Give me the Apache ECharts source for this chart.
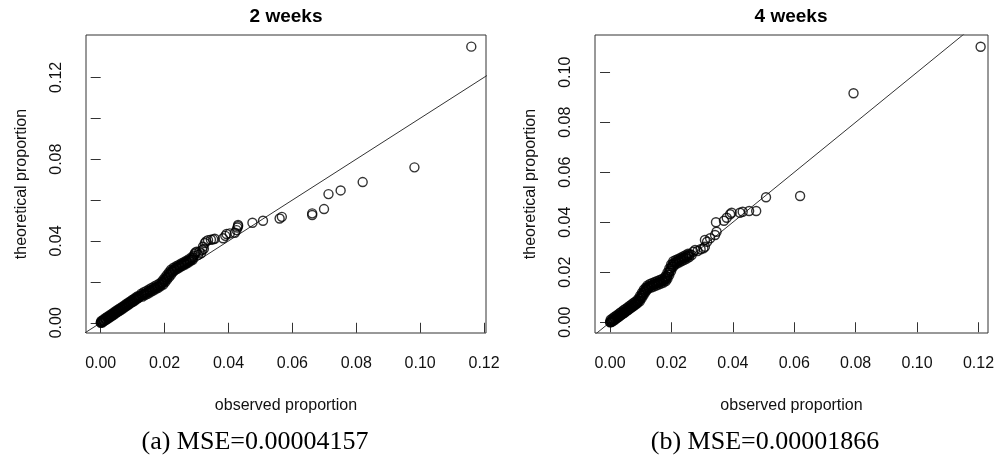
<!DOCTYPE html>
<html>
<head>
<meta charset="utf-8">
<title>QQ plots 2 weeks / 4 weeks</title>
<script src="https://cdn.jsdelivr.net/npm/echarts@6.0.0/dist/echarts.min.js"></script>
<style>
  html, body { margin: 0; padding: 0; background: #fff; }
  #main { width: 998px; height: 459px; }
</style>
</head>
<body>
<div id="main"></div>
<script>
// 2 weeks: observed vs theoretical proportion
var weeks2Observed = [
  0, 0.0001, 0.0003, 0.0005, 0.0007, 0.0010, 0.0013, 0.0016, 0.0019, 0.0022, 0.0025, 0.0028, 0.0031, 0.0034,
  0.0037, 0.0040, 0.0043, 0.0046, 0.0049, 0.0052, 0.0055, 0.0058, 0.0061, 0.0064, 0.0067, 0.0070, 0.0073,
  0.0076, 0.0079, 0.0082, 0.0085, 0.0088, 0.0091, 0.0094, 0.0097, 0.0100, 0.0103, 0.0106, 0.0109, 0.0112,
  0.0115, 0.0118, 0.0121,
  0.0125, 0.0129, 0.0133, 0.0137, 0.0141, 0.0145, 0.0149, 0.0153, 0.0157, 0.0161, 0.0165, 0.0169, 0.0173,
  0.0177, 0.0181, 0.0185, 0.0189,
  0.0192, 0.0195, 0.0198, 0.0201, 0.0204, 0.0207, 0.0210, 0.0213, 0.0216, 0.0219, 0.0222, 0.0226,
  0.0230, 0.0234, 0.0238, 0.0242, 0.0246, 0.0250, 0.0254, 0.0258, 0.0262, 0.0266, 0.0270, 0.0274, 0.0278,
  0.0282, 0.0286, 0.0290,
  0.0292, 0.0294, 0.0296, 0.0300, 0.0305, 0.0309, 0.0314, 0.0318, 0.0320, 0.0323, 0.0326, 0.0330, 0.0336,
  0.0345, 0.0352, 0.0357, 0.0383, 0.0390, 0.0394, 0.0404, 0.0420, 0.0425, 0.0428, 0.0430, 0.0430,
  0.0475, 0.0508, 0.0560, 0.0567, 0.0662, 0.0662, 0.0699, 0.0713, 0.0751, 0.0820, 0.0982, 0.1160,
  // upper edge of the dense band
  0.0002, 0.0008, 0.0014, 0.0020, 0.0026, 0.0032, 0.0038, 0.0044, 0.0050, 0.0056, 0.0062, 0.0068, 0.0074,
  0.0080, 0.0086, 0.0092, 0.0098, 0.0104, 0.0110, 0.0116,
  0.0127, 0.0135, 0.0143, 0.0151, 0.0159, 0.0167, 0.0175, 0.0183,
  0.0190, 0.0196, 0.0202, 0.0208, 0.0214, 0.0220,
  0.0228, 0.0236, 0.0244, 0.0252, 0.0260, 0.0268, 0.0276, 0.0284,
  // lower edge of the dense band
  0.0005, 0.0011, 0.0017, 0.0023, 0.0029, 0.0035, 0.0041, 0.0047, 0.0053, 0.0059, 0.0065, 0.0071, 0.0077,
  0.0083, 0.0089, 0.0095, 0.0101, 0.0107, 0.0113, 0.0119,
  0.0131, 0.0139, 0.0147, 0.0155, 0.0163, 0.0171, 0.0179, 0.0187,
  0.0196, 0.0202, 0.0208, 0.0214, 0.0220, 0.0226,
  0.0232, 0.0240, 0.0248, 0.0256, 0.0264, 0.0272, 0.0280, 0.0288
];
var weeks2Theoretical = [
  0, 0.0002, 0.0004, 0.0006, 0.0008, 0.0011, 0.0014, 0.0017, 0.0020, 0.0024, 0.0027, 0.0030, 0.0033, 0.0036,
  0.0040, 0.0043, 0.0046, 0.0049, 0.0052, 0.0056, 0.0059, 0.0062, 0.0065, 0.0068, 0.0071, 0.0075, 0.0078,
  0.0081, 0.0084, 0.0087, 0.0090, 0.0094, 0.0097, 0.0100, 0.0103, 0.0106, 0.0109, 0.0113, 0.0116, 0.0119,
  0.0122, 0.0125, 0.0128,
  0.0131, 0.0135, 0.0138, 0.0141, 0.0145, 0.0148, 0.0152, 0.0155, 0.0159, 0.0162, 0.0166, 0.0169, 0.0172,
  0.0176, 0.0179, 0.0183, 0.0187,
  0.0192, 0.0197, 0.0203, 0.0209, 0.0215, 0.0221, 0.0227, 0.0233, 0.0239, 0.0245, 0.0251, 0.0257,
  0.0262, 0.0266, 0.0270, 0.0274, 0.0277, 0.0280, 0.0284, 0.0287, 0.0290, 0.0294, 0.0297, 0.0301, 0.0305,
  0.0309, 0.0314, 0.0319,
  0.0328, 0.0336, 0.0343, 0.0347, 0.0332, 0.0347, 0.0340, 0.0356, 0.0372, 0.0362, 0.0390, 0.0398, 0.0404,
  0.0406, 0.0408, 0.0411, 0.0413, 0.0425, 0.0434, 0.0437, 0.0440, 0.0453, 0.0465, 0.0472, 0.0478,
  0.0489, 0.0499, 0.0510, 0.0518, 0.0535, 0.0527, 0.0556, 0.0629, 0.0647, 0.0688, 0.0760, 0.1350,
  // upper edge of the dense band
  0.0009, 0.0015, 0.0022, 0.0028, 0.0035, 0.0041, 0.0047, 0.0054, 0.0060, 0.0066, 0.0073, 0.0079, 0.0085,
  0.0092, 0.0098, 0.0104, 0.0111, 0.0117, 0.0124, 0.0130,
  0.0142, 0.0149, 0.0156, 0.0163, 0.0170, 0.0177, 0.0184, 0.0191,
  0.0199, 0.0211, 0.0223, 0.0235, 0.0247, 0.0259,
  0.0269, 0.0276, 0.0283, 0.0290, 0.0296, 0.0303, 0.0311, 0.0320,
  // lower edge of the dense band
  0.0001, 0.0008, 0.0014, 0.0020, 0.0027, 0.0033, 0.0039, 0.0046, 0.0052, 0.0059, 0.0065, 0.0071, 0.0078,
  0.0084, 0.0090, 0.0097, 0.0103, 0.0109, 0.0116, 0.0122,
  0.0128, 0.0135, 0.0142, 0.0149, 0.0156, 0.0163, 0.0170, 0.0178,
  0.0187, 0.0199, 0.0211, 0.0223, 0.0235, 0.0248,
  0.0257, 0.0264, 0.0271, 0.0278, 0.0285, 0.0292, 0.0300, 0.0308
];

// 4 weeks
var weeks4Observed = [
  0, 0.0001, 0.0003, 0.0005, 0.0007, 0.0010, 0.0013, 0.0016, 0.0019, 0.0022, 0.0025, 0.0028, 0.0031, 0.0034,
  0.0037, 0.0040, 0.0043, 0.0046, 0.0049, 0.0052, 0.0055, 0.0058, 0.0061, 0.0064, 0.0067, 0.0070, 0.0073,
  0.0076, 0.0079, 0.0082, 0.0085, 0.0088, 0.0091,
  0.0094, 0.0097, 0.0100, 0.0103, 0.0106, 0.0109, 0.0112, 0.0115, 0.0118, 0.0121, 0.0124,
  0.0128, 0.0132, 0.0136, 0.0140, 0.0144, 0.0148, 0.0152, 0.0156, 0.0160, 0.0164, 0.0168, 0.0172, 0.0176, 0.0180,
  0.0183, 0.0186, 0.0189, 0.0192, 0.0195, 0.0198, 0.0201, 0.0204,
  0.0208, 0.0212, 0.0216, 0.0220, 0.0224, 0.0228, 0.0232, 0.0236, 0.0240, 0.0244, 0.0248, 0.0252, 0.0256, 0.0260,
  0.0266, 0.0271, 0.0277, 0.0285, 0.0295, 0.0304, 0.0309, 0.0309, 0.0316, 0.0326, 0.0342, 0.0347, 0.0345,
  0.0371, 0.0380, 0.0391, 0.0396, 0.0423, 0.0432, 0.0453, 0.0476, 0.0508, 0.0619, 0.0793, 0.1207,
  // upper edge of the dense band
  0.0002, 0.0008, 0.0014, 0.0020, 0.0026, 0.0032, 0.0038, 0.0044, 0.0050, 0.0056, 0.0062, 0.0068, 0.0074,
  0.0080, 0.0086,
  0.0092, 0.0098, 0.0104, 0.0110, 0.0116, 0.0122,
  0.0130, 0.0138, 0.0146, 0.0154, 0.0162, 0.0170, 0.0178,
  0.0181, 0.0187, 0.0193, 0.0199,
  0.0206, 0.0214, 0.0222, 0.0230, 0.0238, 0.0246, 0.0254,
  // lower edge of the dense band
  0.0005, 0.0011, 0.0017, 0.0023, 0.0029, 0.0035, 0.0041, 0.0047, 0.0053, 0.0059, 0.0065, 0.0071, 0.0077,
  0.0083, 0.0089,
  0.0097, 0.0103, 0.0109, 0.0115, 0.0121, 0.0126,
  0.0134, 0.0142, 0.0150, 0.0158, 0.0166, 0.0174, 0.0182,
  0.0187, 0.0193, 0.0199, 0.0205,
  0.0210, 0.0218, 0.0226, 0.0234, 0.0242, 0.0250, 0.0258
];
var weeks4Theoretical = [
  0, 0.0001, 0.0003, 0.0004, 0.0006, 0.0009, 0.0011, 0.0014, 0.0016, 0.0019, 0.0022, 0.0024, 0.0027, 0.0030,
  0.0032, 0.0035, 0.0038, 0.0040, 0.0043, 0.0046, 0.0048, 0.0051, 0.0054, 0.0057, 0.0059, 0.0062, 0.0065,
  0.0068, 0.0070, 0.0073, 0.0076, 0.0079, 0.0082,
  0.0087, 0.0093, 0.0099, 0.0105, 0.0111, 0.0117, 0.0123, 0.0128, 0.0133, 0.0137, 0.0141,
  0.0144, 0.0146, 0.0148, 0.0150, 0.0152, 0.0154, 0.0156, 0.0158, 0.0160, 0.0162, 0.0164, 0.0166, 0.0168, 0.0171,
  0.0176, 0.0183, 0.0191, 0.0199, 0.0207, 0.0215, 0.0223, 0.0231,
  0.0236, 0.0239, 0.0242, 0.0245, 0.0247, 0.0249, 0.0252, 0.0254, 0.0257, 0.0259, 0.0262, 0.0265, 0.0268, 0.0272,
  0.0269, 0.0282, 0.0289, 0.0285, 0.0292, 0.0296, 0.0302, 0.0329, 0.0322, 0.0336, 0.0349, 0.0362, 0.0400,
  0.0406, 0.0418, 0.0432, 0.0438, 0.0438, 0.0442, 0.0445, 0.0445, 0.0500, 0.0505, 0.0916, 0.1102,
  // upper edge of the dense band
  0.0010, 0.0015, 0.0021, 0.0026, 0.0031, 0.0037, 0.0042, 0.0048, 0.0053, 0.0058, 0.0064, 0.0069, 0.0075,
  0.0080, 0.0085,
  0.0094, 0.0106, 0.0118, 0.0130, 0.0138, 0.0147,
  0.0153, 0.0157, 0.0161, 0.0165, 0.0169, 0.0173, 0.0178,
  0.0185, 0.0199, 0.0215, 0.0231,
  0.0244, 0.0249, 0.0253, 0.0258, 0.0263, 0.0268, 0.0274,
  // lower edge of the dense band
  0.0001, 0.0006, 0.0011, 0.0017, 0.0022, 0.0028, 0.0033, 0.0038, 0.0044, 0.0049, 0.0055, 0.0060, 0.0065,
  0.0071, 0.0076,
  0.0084, 0.0096, 0.0108, 0.0120, 0.0130, 0.0137,
  0.0139, 0.0143, 0.0147, 0.0151, 0.0155, 0.0159, 0.0165,
  0.0174, 0.0189, 0.0205, 0.0221,
  0.0229, 0.0235, 0.0240, 0.0245, 0.0250, 0.0255, 0.0261
];

var xTicks = [0, 0.02, 0.04, 0.06, 0.08, 0.10, 0.12];
var yTicks2 = [0, 0.02, 0.04, 0.06, 0.08, 0.10, 0.12];
var yLabels2 = [0, 0.04, 0.08, 0.12];
var yTicks4 = [0, 0.02, 0.04, 0.06, 0.08, 0.10];
var identityLine = [[-0.01, -0.01], [0.13, 0.13]];

function zip(xs, ys) {
  var out = [];
  for (var i = 0; i < xs.length; i++) out.push([xs[i], ys[i]]);
  return out;
}

var FONT = 'Liberation Sans';
var fmt = function (v) { return v.toFixed(2); };

function xAxisFor(idx, min, max) {
  return {
    type: 'value', gridIndex: idx, min: min, max: max,
    axisLine: { show: false },
    splitLine: { show: false },
    axisTick: { show: true, inside: false, length: 10, customValues: xTicks, lineStyle: { color: '#333', width: 1 } },
    axisLabel: { customValues: xTicks, margin: 23, fontSize: 16, color: '#111', fontFamily: FONT, formatter: fmt },
    name: 'observed proportion', nameLocation: 'middle', nameGap: 65,
    nameTextStyle: { fontSize: 16, color: '#111', fontFamily: FONT }
  };
}

function yAxisFor(idx, min, max, ticks, labels) {
  return {
    type: 'value', gridIndex: idx, min: min, max: max,
    axisLine: { show: false },
    splitLine: { show: false },
    axisTick: { show: true, inside: false, length: 10, customValues: ticks, lineStyle: { color: '#333', width: 1 } },
    axisLabel: { customValues: labels, rotate: 90, margin: 21, fontSize: 16, color: '#111', fontFamily: FONT, formatter: fmt },
    name: 'theoretical proportion', nameLocation: 'middle', nameGap: 56,
    nameTextStyle: { fontSize: 16, color: '#111', fontFamily: FONT }
  };
}

function pointsSeries(idx, data) {
  return {
    type: 'scatter', xAxisIndex: idx, yAxisIndex: idx, data: data,
    symbol: 'circle', symbolSize: 9, silent: true,
    itemStyle: { color: 'rgba(0,0,0,0)', borderColor: '#000', borderWidth: 1.4 },
    emphasis: { disabled: true }, z: 3
  };
}

function lineSeries(idx) {
  return {
    type: 'line', xAxisIndex: idx, yAxisIndex: idx, data: identityLine,
    symbol: 'none', clip: true, silent: true,
    lineStyle: { color: '#333', width: 1 }, z: 2
  };
}

var myChart = echarts.init(document.getElementById('main'), null, { renderer: 'canvas' });
var option = {
  animation: false,
  backgroundColor: '#fff',
  title: [
    { text: '2 weeks', left: 286, top: 7, textAlign: 'center', padding: 0,
      textStyle: { fontSize: 19, fontWeight: 'bold', fontFamily: FONT, color: '#000' } },
    { text: '4 weeks', left: 791, top: 7, textAlign: 'center', padding: 0,
      textStyle: { fontSize: 19, fontWeight: 'bold', fontFamily: FONT, color: '#000' } },
    { text: '(a) MSE=0.00004157', left: 255, top: 429, textAlign: 'center', padding: 0,
      textStyle: { fontSize: 26, fontWeight: 'normal', fontFamily: 'Liberation Serif', color: '#000' } },
    { text: '(b) MSE=0.00001866', left: 765, top: 429, textAlign: 'center', padding: 0,
      textStyle: { fontSize: 26, fontWeight: 'normal', fontFamily: 'Liberation Serif', color: '#000' } }
  ],
  grid: [
    { left: 86, top: 35, width: 400, height: 298, show: true, borderColor: '#333', borderWidth: 1,
      backgroundColor: 'transparent', containLabel: false, outerBoundsMode: 'none' },
    { left: 595, top: 35, width: 393, height: 298, show: true, borderColor: '#333', borderWidth: 1,
      backgroundColor: 'transparent', containLabel: false, outerBoundsMode: 'none' }
  ],
  xAxis: [
    xAxisFor(0, -0.0046, 0.1206),
    xAxisFor(1, -0.0049, 0.1231)
  ],
  yAxis: [
    yAxisFor(0, -0.005, 0.1407, yTicks2, yLabels2),
    yAxisFor(1, -0.0043, 0.1149, yTicks4, yTicks4)
  ],
  series: [
    lineSeries(0),
    pointsSeries(0, zip(weeks2Observed, weeks2Theoretical)),
    lineSeries(1),
    pointsSeries(1, zip(weeks4Observed, weeks4Theoretical))
  ]
};
myChart.setOption(option);
</script>
</body>
</html>
